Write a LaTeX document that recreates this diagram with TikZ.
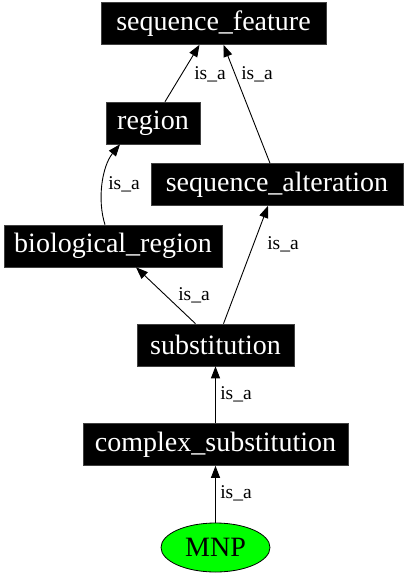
\documentclass[tikz,border=0pt]{standalone}
\usepackage{fontspec}
\setmainfont{Liberation Serif}
\usetikzlibrary{arrows.meta,shapes.geometric}
\definecolor{mnpgreen}{HTML}{00FF00}
\tikzset{
  term/.style={rectangle, fill=black, draw=black!75, line width=0.6pt, text=white,
    font=\fontsize{28}{30}\selectfont, inner sep=0pt, minimum height=42pt},
  leaf/.style={ellipse, fill=mnpgreen, draw=black, line width=0.8pt, text=black,
    font=\fontsize{28}{30}\selectfont, inner sep=0pt, minimum width=109pt, minimum height=49pt},
  lbl/.style={font=\fontsize{19.5}{22}\selectfont, inner sep=0pt, text=black},
  isa/.style={draw=black, line width=0.9pt, -{Triangle[length=12pt,width=9pt]}},
}
\begin{document}
\begin{tikzpicture}[x=1pt,y=-1pt]
\useasboundingbox (0,0) rectangle (409,576);
\fill[white] (0,0) rectangle (409,576);
% nodes
\node[term, minimum width=225pt] (sf) at (213.5,23.5) {sequence\_feature};
\node[term, minimum width=94pt] (reg) at (153,123) {region};
\node[term, minimum width=252pt] (sa) at (277,184.5) {sequence\_alteration};
\node[term, minimum width=218pt] (br) at (113,246) {biological\_region};
\node[term, minimum width=157pt] (sub) at (215.5,345) {substitution};
\node[term, minimum width=265pt] (cs) at (215.5,444.5) {complex\_substitution};
\node[leaf] (mnp) at (215.5,547.5) {MNP};
% edges
\draw[isa] ([xshift=12pt]reg.north) -- ([xshift=-14pt]sf.south);
\draw[isa] ([xshift=-7pt]sa.north) -- ([xshift=10pt]sf.south);
\draw[isa] ([xshift=-8pt]br.north) .. controls +(-8,-25) and +(-18,22) .. ([xshift=-33pt]reg.south);
\draw[isa] ([xshift=-20pt]sub.north) -- ([xshift=23pt]br.south);
\draw[isa] ([xshift=8pt]sub.north) -- ([xshift=-9pt]sa.south);
\draw[isa] (cs.north) -- (sub.south);
\draw[isa] (mnp.north) -- (cs.south);
% labels
\node[lbl] (l1) at (210,74) {is\_a};
\node[lbl] (l2) at (257,74) {is\_a};
\node[lbl] (l3) at (124,184) {is\_a};
\node[lbl] (l4) at (194,295) {is\_a};
\node[lbl] (l5) at (283,244) {is\_a};
\node[lbl] (l6) at (236,394) {is\_a};
\node[lbl] (l7) at (236,493) {is\_a};
\end{tikzpicture}
\end{document}
